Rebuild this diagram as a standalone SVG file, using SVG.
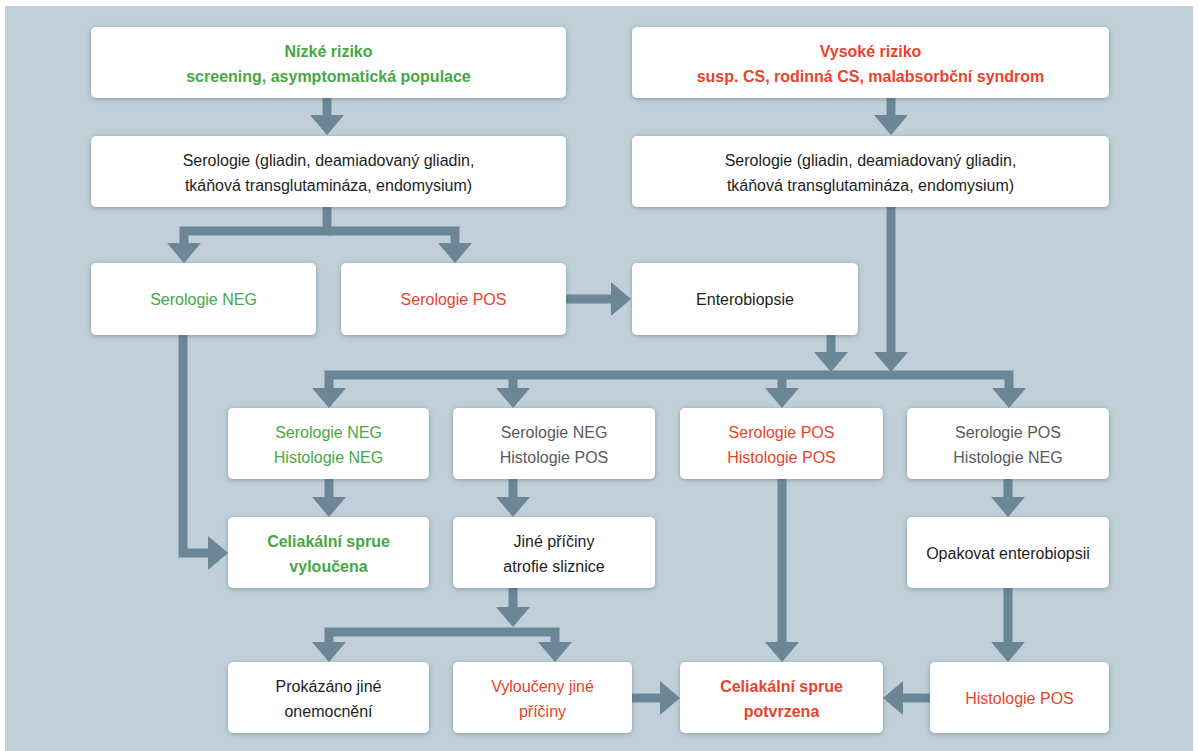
<svg xmlns="http://www.w3.org/2000/svg" width="1198" height="751" viewBox="0 0 1198 751">
<defs>
<filter id="sh" x="-10%" y="-20%" width="120%" height="150%">
<feDropShadow dx="0" dy="1" stdDeviation="2.5" flood-color="#3d5260" flood-opacity="0.45"/>
</filter>
<marker id="ah" markerUnits="userSpaceOnUse" viewBox="0 0 20 34" markerWidth="20" markerHeight="34" refX="0" refY="17" orient="auto">
<path d="M0,0 L20,17 L0,34 Z" fill="#6b8695"/>
</marker>
<style>
.bx{fill:#ffffff;filter:url(#sh)}
text{font-family:"Liberation Sans",Arial,sans-serif;font-size:16px;text-anchor:middle}
.g{fill:#45a845}
.r{fill:#e8432e}
.k{fill:#1e1e1e}
.m{fill:#5a5a5a}
.b{font-weight:bold}
.c{fill:none;stroke:#6b8695;stroke-width:9;stroke-linejoin:miter}
.ca{fill:none;stroke:#6b8695;stroke-width:9;stroke-linejoin:miter;marker-end:url(#ah)}
</style>
</defs>
<rect x="0" y="0" width="1198" height="751" fill="#ffffff"/>
<rect x="5" y="6" width="1188" height="745" fill="#c1d0d8"/>

<g id="connectors">
<path class="ca" d="M327,98 V115"/>
<path class="ca" d="M891,98 V115"/>
<path class="ca" d="M327,207 V231 H184 V243"/>
<path class="ca" d="M327,231 H455 V243"/>
<path class="ca" d="M891,207 V352"/>
<path class="ca" d="M566,299 H611"/>
<path class="ca" d="M831,335 V352"/>
<path class="ca" d="M513,375 H329 V388"/>
<path class="ca" d="M513,375 V388"/>
<path class="ca" d="M513,375 H1009 V388"/>
<path class="ca" d="M782,375 V388"/>
<path class="ca" d="M183,335 V553 H208"/>
<path class="ca" d="M329,479 V497"/>
<path class="ca" d="M513,479 V497"/>
<path class="ca" d="M1008,479 V497"/>
<path class="ca" d="M513,588 V607"/>
<path class="ca" d="M513,632 H329 V642"/>
<path class="ca" d="M513,632 H555 V642"/>
<path class="ca" d="M782,479 V642"/>
<path class="ca" d="M1008,588 V642"/>
<path class="ca" d="M632,698 H660"/>
<path class="ca" d="M930,698 H903"/>
</g>

<g id="n1"><rect class="bx" x="91" y="27" width="475" height="71" rx="5"/>
<text class="g b" x="328.5" y="57">Nízké riziko</text>
<text class="g b" x="328.5" y="82">screening, asymptomatická populace</text></g>
<g id="n2"><rect class="bx" x="632" y="27" width="477" height="71" rx="5"/>
<text class="r b" x="870.5" y="57">Vysoké riziko</text>
<text class="r b" x="870.5" y="82">susp. CS, rodinná CS, malabsorbční syndrom</text></g>

<g id="n3"><rect class="bx" x="91" y="136" width="475" height="71" rx="5"/>
<text class="k" x="328.5" y="166">Serologie (gliadin, deamiadovaný gliadin,</text>
<text class="k" x="328.5" y="191">tkáňová transglutamináza, endomysium)</text></g>
<g id="n4"><rect class="bx" x="632" y="136" width="477" height="71" rx="5"/>
<text class="k" x="870.5" y="166">Serologie (gliadin, deamiadovaný gliadin,</text>
<text class="k" x="870.5" y="191">tkáňová transglutamináza, endomysium)</text></g>

<g id="n5"><rect class="bx" x="91" y="263" width="225" height="72" rx="5"/>
<text class="g" x="203.5" y="305">Serologie NEG</text></g>
<g id="n6"><rect class="bx" x="341" y="263" width="225" height="72" rx="5"/>
<text class="r" x="453.5" y="305">Serologie POS</text></g>
<g id="n7"><rect class="bx" x="632" y="263" width="226" height="72" rx="5"/>
<text class="k" x="745" y="305">Enterobiopsie</text></g>

<g id="n8"><rect class="bx" x="228" y="408" width="201" height="71" rx="5"/>
<text class="g" x="328.5" y="438">Serologie NEG</text>
<text class="g" x="328.5" y="463">Histologie NEG</text></g>
<g id="n9"><rect class="bx" x="453" y="408" width="202" height="71" rx="5"/>
<text class="m" x="554" y="438">Serologie NEG</text>
<text class="m" x="554" y="463">Histologie POS</text></g>
<g id="n10"><rect class="bx" x="680" y="408" width="203" height="71" rx="5"/>
<text class="r" x="781.5" y="438">Serologie POS</text>
<text class="r" x="781.5" y="463">Histologie POS</text></g>
<g id="n11"><rect class="bx" x="907" y="408" width="202" height="71" rx="5"/>
<text class="m" x="1008" y="438">Serologie POS</text>
<text class="m" x="1008" y="463">Histologie NEG</text></g>

<g id="n12"><rect class="bx" x="228" y="517" width="201" height="71" rx="5"/>
<text class="g b" x="328.5" y="547">Celiakální sprue</text>
<text class="g b" x="328.5" y="572">vyloučena</text></g>
<g id="n13"><rect class="bx" x="453" y="517" width="202" height="71" rx="5"/>
<text class="k" x="554" y="547">Jiné příčiny</text>
<text class="k" x="554" y="572">atrofie sliznice</text></g>
<g id="n14"><rect class="bx" x="907" y="517" width="202" height="71" rx="5"/>
<text class="k" x="1008" y="559">Opakovat enterobiopsii</text></g>

<g id="n15"><rect class="bx" x="228" y="662" width="201" height="71" rx="5"/>
<text class="k" x="328.5" y="692">Prokázáno jiné</text>
<text class="k" x="328.5" y="717">onemocnění</text></g>
<g id="n16"><rect class="bx" x="453" y="662" width="179" height="71" rx="5"/>
<text class="r" x="542.5" y="692">Vyloučeny jiné</text>
<text class="r" x="542.5" y="717">příčiny</text></g>
<g id="n17"><rect class="bx" x="680" y="662" width="203" height="71" rx="5"/>
<text class="r b" x="781.5" y="692">Celiakální sprue</text>
<text class="r b" x="781.5" y="717">potvrzena</text></g>
<g id="n18"><rect class="bx" x="930" y="662" width="179" height="71" rx="5"/>
<text class="r" x="1019.5" y="704">Histologie POS</text></g>
</svg>
